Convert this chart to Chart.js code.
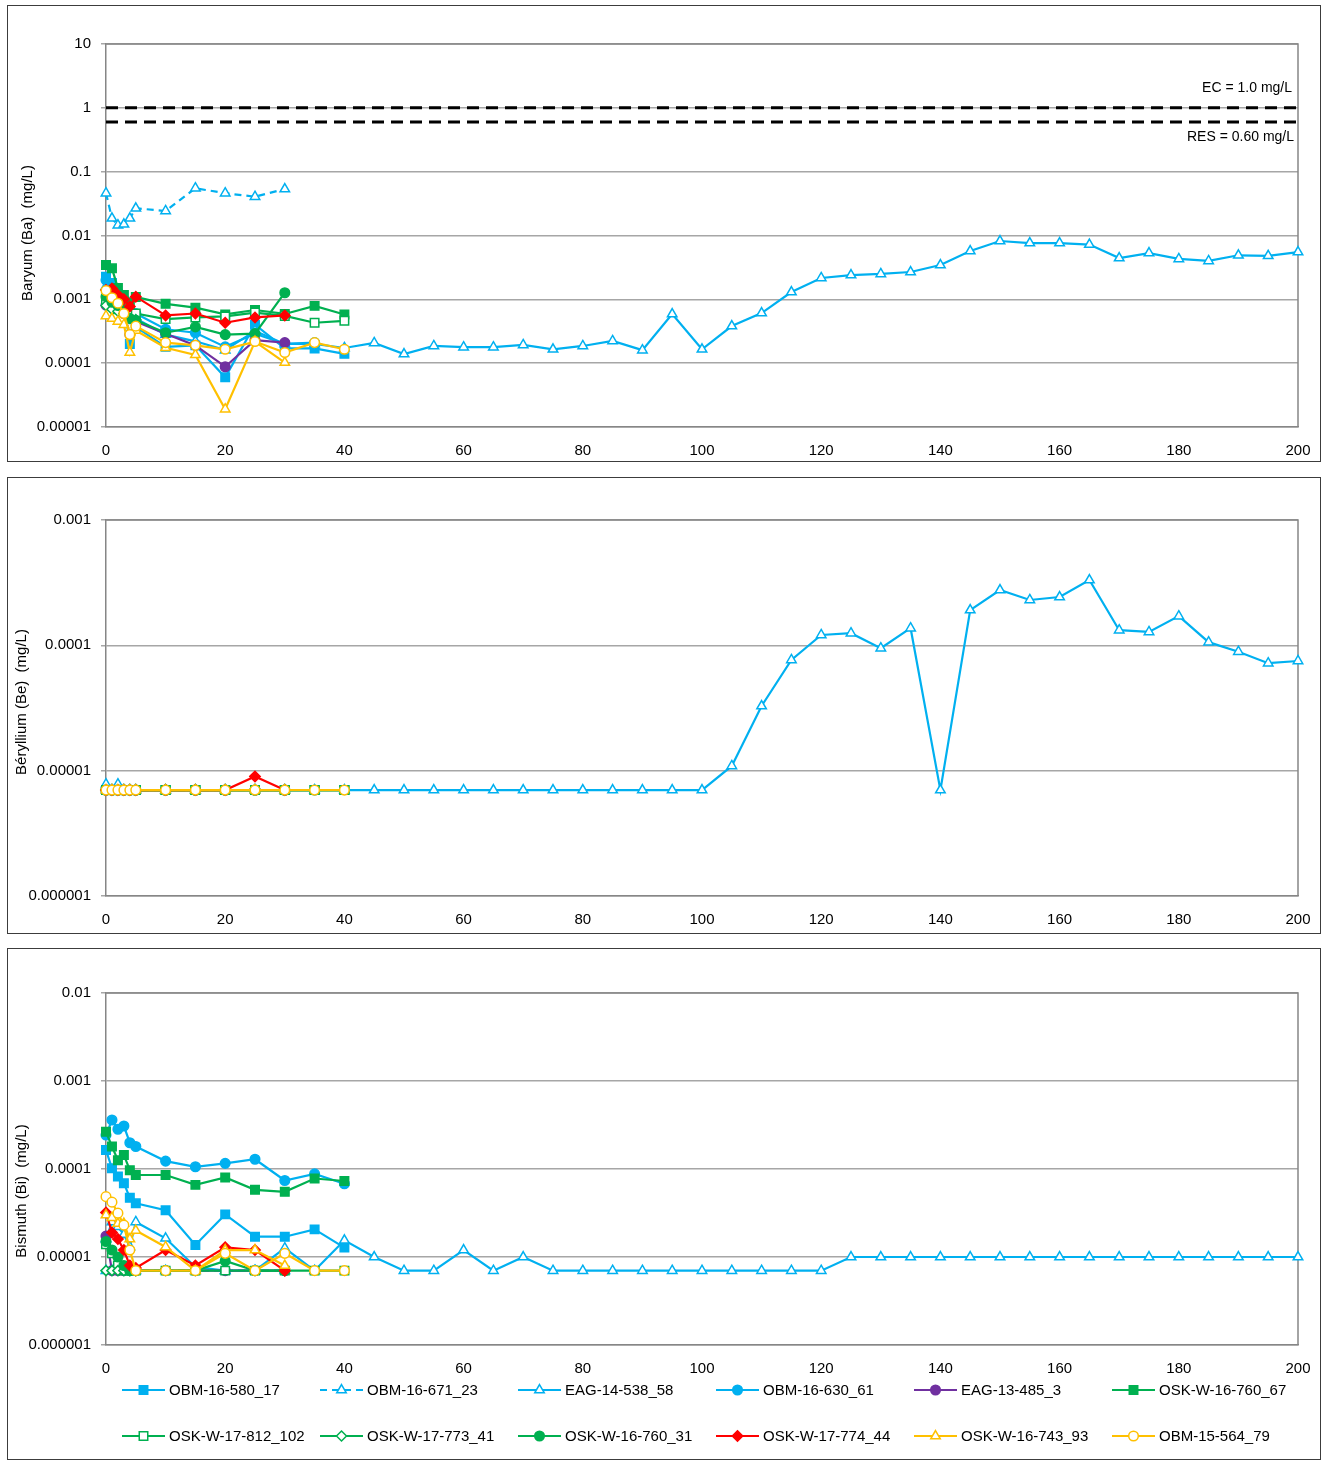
<!DOCTYPE html>
<html><head><meta charset="utf-8">
<script src="https://cdn.jsdelivr.net/npm/chart.js@4.4.1/dist/chart.umd.min.js"></script>
<style>
body{margin:0;background:#fff;width:1323px;height:1462px;position:relative;overflow:hidden}
.panel{position:absolute;left:7px;width:1312px;border:1px solid #3c3c3c;background:#fff}
.panel canvas{display:block}
</style></head><body>
<div class="panel" style="top:5px;height:455px"><canvas id="c1" width="1312" height="455" style="width:1312px;height:455px"></canvas></div>
<div class="panel" style="top:477px;height:455px"><canvas id="c2" width="1312" height="455" style="width:1312px;height:455px"></canvas></div>
<div class="panel" style="top:948px;height:510px"><canvas id="c3" width="1312" height="510" style="width:1312px;height:510px"></canvas></div>
<script>
// ---------- DATA ----------
const seriesNames = ['OBM-16-580_17','OBM-16-671_23','EAG-14-538_58','OBM-16-630_61','EAG-13-485_3','OSK-W-16-760_67',
  'OSK-W-17-812_102','OSK-W-17-773_41','OSK-W-16-760_31','OSK-W-17-774_44','OSK-W-16-743_93','OBM-15-564_79'];

const xA = [0,1,2,3,4,5,10,15,20,25,30,35,40];
const xB = [0,1,2,3,4,5,10,15,20,25,30];
const xC = [0,1,2,3,4,5,10,15,20,25,30,35];
const xD = [0,1,2,3,4,5];
const xE = [0,1,2,3,4,5,10,15,20,25,30,35,40,45,50,55,60,65,70,75,80,85,90,95,100,105,110,115,120,125,130,135,140,145,150,155,160,165,170,175,180,185,190,195,200];

const xTicks = [0,20,40,60,80,100,120,140,160,180,200];

// Baryum
const baTicks = [10,1,0.1,0.01,0.001,0.0001,0.00001];
const baTickLabels = ['10','1','0.1','0.01','0.001','0.0001','0.00001'];
const ecValue = 1.0, resValue = 0.6;
const ecLabel = 'EC = 1.0 mg/L', resLabel = 'RES = 0.60 mg/L';
const ba580 = [0.00226,0.0018,0.0012,0.0009,0.0002,0.00037,0.00018,0.00019,0.00006,0.0004,0.00017,0.00017,0.00014];
const ba671 = [0.046,0.0186,0.0145,0.015,0.0186,0.0267,0.0242,0.055,0.046,0.0405,0.0535];
const ba538 = [0.0016,0.0013,0.001,0.0008,0.0006,0.0005,0.00028,0.00022,0.00016,0.00032,0.0002,0.0002,0.000173,
  0.000207,0.000139,0.000186,0.000178,0.000178,0.000193,0.000165,0.000186,0.000223,0.00016,0.000589,0.000165,
  0.000382,0.00061,0.0013,0.00216,0.0024,0.0025,0.00268,0.00345,0.00571,0.0082,0.0076,0.0076,0.0072,0.00444,
  0.0053,0.0043,0.004,0.0049,0.0048,0.0055];
const ba630 = [0.002,0.0016,0.0012,0.001,0.0007,0.0006,0.00034,0.0003,0.00018,0.00029,0.0002,0.00021];
const ba485 = [0.00081,0.0009,0.0008,0.0006,0.00028,0.00045,0.00029,0.00019,0.000088,0.00023,0.00021];
const ba760_67 = [0.00345,0.00306,0.0015,0.00117,0.0009,0.00109,0.00085,0.00074,0.00058,0.00068,0.00059,0.00079,0.00058];
const ba812 = [0.0009,0.0008,0.0007,0.00075,0.00065,0.0006,0.00049,0.00052,0.00054,0.00062,0.00055,0.00043,0.00046];
const ba773 = [0.0008,0.0007,0.00065,0.0006,0.0005,0.00048];
const ba760_31 = [0.0011,0.0009,0.0008,0.0007,0.0005,0.00047,0.0003,0.00037,0.00028,0.00029,0.00127];
const ba774 = [0.0014,0.00148,0.00117,0.001,0.00077,0.0011,0.00056,0.0006,0.00043,0.00052,0.00056];
const ba743 = [0.00055,0.0005,0.00045,0.0004,0.000147,0.000325,0.000174,0.000135,0.000019,0.000218,0.000102];
const ba564 = [0.00137,0.00106,0.00087,0.0006,0.00028,0.00038,0.00021,0.00019,0.000165,0.000218,0.000147,0.00021,0.000165];

// Béryllium
const beTicks = [0.001,0.0001,0.00001,0.000001];
const beTickLabels = ['0.001','0.0001','0.00001','0.000001'];
const be580 = [7e-6,7e-6,7e-6,7e-6,7e-6,7e-6,7e-6,7e-6,7e-6,7e-6,7e-6,7e-6,7e-6];
const be671 = [7e-6,7e-6,7e-6,7e-6,7e-6,7e-6,7e-6,7e-6,7e-6,7e-6,7e-6];
const be538 = [7.8e-6,7e-6,7.8e-6,7e-6,7e-6,7e-6,7e-6,7e-6,7e-6,7e-6,7e-6,7e-6,7e-6,
  7e-6,7e-6,7e-6,7e-6,7e-6,7e-6,7e-6,7e-6,7e-6,7e-6,7e-6,7e-6,
  1.09e-5,3.28e-5,7.64e-5,1.21e-4,1.25e-4,9.5e-5,1.37e-4,7e-6,1.91e-4,2.76e-4,2.3e-4,2.43e-4,3.32e-4,
  1.32e-4,1.28e-4,1.71e-4,1.06e-4,8.9e-5,7.2e-5,7.5e-5];
const be630 = [7e-6,7e-6,7e-6,7e-6,7e-6,7e-6,7e-6,7e-6,7e-6,7e-6,7e-6,7e-6];
const be485 = [7e-6,7e-6,7e-6,7e-6,7e-6,7e-6,7e-6,7e-6,7e-6,7e-6,7e-6];
const be760_67 = [7e-6,7e-6,7e-6,7e-6,7e-6,7e-6,7e-6,7e-6,7e-6,7e-6,7e-6,7e-6,7e-6];
const be812 = [7e-6,7e-6,7e-6,7e-6,7e-6,7e-6,7e-6,7e-6,7e-6,7e-6,7e-6,7e-6,7e-6];
const be773 = [7e-6,7e-6,7e-6,7e-6,7e-6,7e-6];
const be760_31 = [7e-6,7e-6,7e-6,7e-6,7e-6,7e-6,7e-6,7e-6,7e-6,7e-6,7e-6];
const be774 = [7e-6,7e-6,7e-6,7e-6,7e-6,7e-6,7e-6,7e-6,7e-6,9e-6,7e-6];
const be743 = [7e-6,7e-6,7e-6,7e-6,7e-6,7e-6,7e-6,7e-6,7e-6,7e-6,7e-6];
const be564 = [7e-6,7e-6,7e-6,7e-6,7e-6,7e-6,7e-6,7e-6,7e-6,7e-6,7e-6,7e-6,7e-6];

// Bismuth
const biTicks = [0.01,0.001,0.0001,0.00001,0.000001];
const biTickLabels = ['0.01','0.001','0.0001','0.00001','0.000001'];
const bi580 = [1.64e-4,1.02e-4,8.2e-5,6.9e-5,4.7e-5,4.07e-5,3.4e-5,1.37e-5,3.05e-5,1.7e-5,1.7e-5,2.06e-5,1.28e-5];
const bi671 = [7e-6,7e-6,7e-6,7e-6,7e-6,7e-6,7e-6,7e-6,7e-6,7e-6,7e-6];
const bi538 = [1.6e-5,2.5e-5,2.2e-5,1.8e-5,1.3e-5,2.5e-5,1.63e-5,7.7e-6,7e-6,7e-6,1.26e-5,7e-6,1.55e-5,
  1e-5,7e-6,7e-6,1.2e-5,7e-6,1e-5,7e-6,7e-6,7e-6,7e-6,7e-6,7e-6,7e-6,7e-6,7e-6,7e-6,
  1e-5,1e-5,1e-5,1e-5,1e-5,1e-5,1e-5,1e-5,1e-5,1e-5,1e-5,1e-5,1e-5,1e-5,1e-5,1e-5];
const bi630 = [2.43e-4,3.6e-4,2.83e-4,3.08e-4,1.99e-4,1.8e-4,1.23e-4,1.06e-4,1.16e-4,1.29e-4,7.4e-5,8.8e-5,6.8e-5];
const bi485 = [1.73e-5,7e-6,7e-6,7e-6,7e-6,7e-6,7e-6,7e-6,7e-6,7e-6,7e-6];
const bi760_67 = [2.65e-4,1.8e-4,1.26e-4,1.44e-4,9.7e-5,8.55e-5,8.55e-5,6.6e-5,8e-5,5.8e-5,5.5e-5,7.8e-5,7.3e-5];
const bi812 = [1.4e-5,1.1e-5,8e-6,7e-6,7e-6,7e-6,7e-6,7e-6,7e-6,7e-6,7e-6,7e-6,7e-6];
const bi773 = [7e-6,7e-6,7e-6,7e-6,7e-6,7e-6];
const bi760_31 = [1.5e-5,1.2e-5,1e-5,8e-6,7e-6,7e-6,7e-6,7e-6,9e-6,7e-6,7e-6];
const bi774 = [3.2e-5,1.9e-5,1.6e-5,1.2e-5,8e-6,7.5e-6,1.2e-5,8e-6,1.29e-5,1.2e-5,7e-6];
const bi743 = [3e-5,2.8e-5,2.4e-5,2.4e-5,1.6e-5,2e-5,1.3e-5,7e-6,1.2e-5,1.2e-5,8e-6];
const bi564 = [4.85e-5,4.2e-5,3.15e-5,2.3e-5,1.2e-5,7e-6,7e-6,7e-6,1.1e-5,7e-6,1.1e-5,7e-6,7e-6];

const baX = [xA,xB,xE,xC,xB,xA,xA,xD,xB,xB,xB,xA];
const beX = [xA,xB,xE,xC,xB,xA,xA,xD,xB,xB,xB,xA];
const biX = [xA,xB,xE,xA,xB,xA,xA,xD,xB,xB,xB,xA];
const baVals = [ba580,ba671,ba538,ba630,ba485,ba760_67,ba812,ba773,ba760_31,ba774,ba743,ba564];
const beVals = [be580,be671,be538,be630,be485,be760_67,be812,be773,be760_31,be774,be743,be564];
const biVals = [bi580,bi671,bi538,bi630,bi485,bi760_67,bi812,bi773,bi760_31,bi774,bi743,bi564];

// ---------- STYLES ----------
const CY='#00B0F0', GR='#00B050', RD='#FF0000', YE='#FFC000', PU='#7030A0';
const styles = [
  {c:CY,p:'rect',fill:true,r:6},
  {c:CY,p:'triangle',fill:false,r:5.5,dash:[7,5]},
  {c:CY,p:'triangle',fill:false,r:5.5},
  {c:CY,p:'circle',fill:true,r:4.8},
  {c:PU,p:'circle',fill:true,r:4.8},
  {c:GR,p:'rect',fill:true,r:6},
  {c:GR,p:'rect',fill:false,r:6},
  {c:GR,p:'rectRot',fill:false,r:5},
  {c:GR,p:'circle',fill:true,r:4.8},
  {c:RD,p:'rectRot',fill:true,r:5.2},
  {c:YE,p:'triangle',fill:false,r:5.5},
  {c:YE,p:'circle',fill:false,r:4.8}
];
const FONT = "'Liberation Sans', Arial, sans-serif";

function buildSets(vals, xs){
  return seriesNames.map((name,i)=>{
    const st = styles[i];
    return {
      label:name,
      data: xs[i].map((x,k)=>({x:x, y:vals[i][k]})),
      borderColor: st.c, backgroundColor: st.fill ? st.c : '#fff',
      borderWidth: 2.2, borderDash: st.dash || [],
      pointStyle: st.p, pointRadius: st.r, pointBorderWidth: 1.5,
      pointBackgroundColor: st.fill ? st.c : '#fff', pointBorderColor: st.c,
      order: 20 - i, clip: false, tension: 0
    };
  });
}

function drawMarker(ctx, st, x, y){
  const r = st.r;
  ctx.save();
  ctx.beginPath();
  if(st.p==='rect'){ const s=r*Math.SQRT1_2; ctx.rect(x-s,y-s,2*s,2*s); }
  else if(st.p==='circle'){ ctx.arc(x,y,r,0,Math.PI*2); }
  else if(st.p==='triangle'){
    let a=0; ctx.moveTo(x+Math.sin(a)*r,y-Math.cos(a)*r);
    a+=2*Math.PI/3; ctx.lineTo(x+Math.sin(a)*r,y-Math.cos(a)*r);
    a+=2*Math.PI/3; ctx.lineTo(x+Math.sin(a)*r,y-Math.cos(a)*r); ctx.closePath();
  } else if(st.p==='rectRot'){
    ctx.moveTo(x,y-r); ctx.lineTo(x+r,y); ctx.lineTo(x,y+r); ctx.lineTo(x-r,y); ctx.closePath();
  }
  ctx.fillStyle = st.fill ? st.c : '#fff';
  ctx.strokeStyle = st.c; ctx.lineWidth = 1.5;
  ctx.fill(); ctx.stroke();
  ctx.restore();
}

const framePlugin = {
  id:'frame',
  beforeDatasetsDraw(chart){
    const a = chart.chartArea, ctx = chart.ctx;
    ctx.save(); ctx.strokeStyle='#868686'; ctx.lineWidth=1.5;
    ctx.beginPath(); ctx.moveTo(a.left,a.top); ctx.lineTo(a.right,a.top); ctx.lineTo(a.right,a.bottom); ctx.stroke();
    ctx.restore();
  },
  afterDraw(chart, args, opts){
    const ctx = chart.ctx;
    ctx.save();
    ctx.fillStyle='#000'; ctx.font='15px '+FONT;
    ctx.translate(opts.tx, opts.ty); ctx.rotate(-Math.PI/2);
    ctx.textAlign='center'; ctx.textBaseline='middle';
    ctx.fillText(opts.title,0,0);
    ctx.restore();
  }
};

function makeChart(id, vals, xs, yMin, yMax, ticks, tickLabels, geom, extra){
  const datasets = buildSets(vals, xs).concat(extra.sets || []);
  return new Chart(document.getElementById(id), {
    type:'line',
    data:{datasets},
    options:{
      responsive:false, animation:false, events:[],
      layout:{padding:{left:0,right:22,top:geom.top,bottom:0}},
      plugins:{legend:{display:false}, tooltip:{enabled:false},
        frame:{title:geom.title, tx:geom.tx, ty:geom.ty}},
      scales:{
        x:{type:'linear', min:0, max:200,
          afterFit(s){ s.height = geom.xH; s.paddingLeft = 0; s.paddingRight = 0; },
          afterBuildTicks(s){ s.ticks = xTicks.map(v=>({value:v})); },
          ticks:{color:'#000', font:{family:FONT,size:15}, padding:15, maxRotation:0, autoSkip:false},
          grid:{display:false, drawTicks:false},
          border:{display:true, color:'#868686', width:1.5}},
        y:{type:'logarithmic', min:yMin, max:yMax,
          afterFit(s){ s.width = 98; s.paddingTop = 0; s.paddingBottom = 0; },
          afterBuildTicks(s){ s.ticks = ticks.map(v=>({value:v})); },
          ticks:{color:'#000', font:{family:FONT,size:15}, padding:10, autoSkip:false,
            callback:(v)=>{ const i = ticks.findIndex(t=>Math.abs(Math.log10(t)-Math.log10(v))<1e-6); return i>=0 ? tickLabels[i] : ''; }},
          grid:{color:'#a6a6a6', lineWidth:1.5, tickLength:5, drawTicks:true},
          border:{color:'#868686', width:1.5}}
      }
    },
    plugins:[framePlugin].concat(extra.plugins || [])
  });
}

// reference lines for Ba chart
const refSets = [
  {label:'EC', data:[{x:0,y:ecValue},{x:200,y:ecValue}], borderColor:'#000', borderWidth:3, borderDash:[12,7], pointRadius:0, order:0, clip:false},
  {label:'RES', data:[{x:0,y:resValue},{x:200,y:resValue}], borderColor:'#000', borderWidth:3, borderDash:[12,7], pointRadius:0, order:0, clip:false}
];
const refLabelPlugin = {
  id:'refLabels',
  afterDraw(chart){
    const ctx = chart.ctx, y = chart.scales.y, a = chart.chartArea;
    ctx.save(); ctx.fillStyle='#000'; ctx.font='14px '+FONT; ctx.textAlign='right'; ctx.textBaseline='middle';
    ctx.fillText(ecLabel, a.right-6, y.getPixelForValue(ecValue)-20);
    ctx.fillText(resLabel, a.right-4, y.getPixelForValue(resValue)+15);
    ctx.restore();
  }
};

const legendPlugin = {
  id:'customLegend',
  afterDraw(chart){
    const ctx = chart.ctx;
    const cols = [114,312,510,708,906,1104];
    const rows = [441,487];
    seriesNames.forEach((name,i)=>{
      const st = styles[i];
      const x0 = cols[i%6], y0 = rows[Math.floor(i/6)];
      ctx.save();
      ctx.strokeStyle = st.c; ctx.lineWidth = 2.2; ctx.setLineDash(st.dash || []);
      ctx.beginPath(); ctx.moveTo(x0,y0); ctx.lineTo(x0+43,y0); ctx.stroke();
      ctx.restore();
      drawMarker(ctx, st, x0+21.5, y0);
      ctx.save(); ctx.fillStyle='#000'; ctx.font='15px '+FONT; ctx.textAlign='left'; ctx.textBaseline='middle';
      ctx.fillText(name, x0+47, y0+1); ctx.restore();
    });
  }
};

makeChart('c1', baVals, baX, 0.00001, 10, baTicks, baTickLabels,
  {top:38, xH:34, title:'Baryum (Ba)  (mg/L)', tx:20, ty:227}, {sets:refSets, plugins:[refLabelPlugin]});
makeChart('c2', beVals, beX, 0.000001, 0.001, beTicks, beTickLabels,
  {top:42, xH:37, title:'Béryllium (Be)  (mg/L)', tx:14, ty:224}, {});
makeChart('c3', biVals, biX, 0.000001, 0.01, biTicks, biTickLabels,
  {top:44, xH:114, title:'Bismuth (Bi)  (mg/L)', tx:14, ty:242}, {plugins:[legendPlugin]});
</script>
</body></html>
